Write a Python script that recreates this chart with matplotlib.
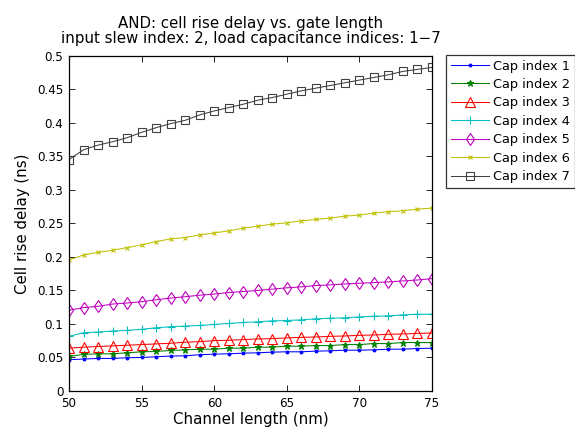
import matplotlib
matplotlib.use("Agg")
import matplotlib.pyplot as plt

plt.rcParams['font.family'] = ['DejaVu Sans']

channel_length = list(range(50, 76))

cap1 = [0.0467, 0.0477, 0.0486, 0.0486, 0.0496, 0.0501, 0.0511, 0.0521, 0.0526, 0.0541,
        0.0550, 0.0555, 0.0565, 0.0570, 0.0580, 0.0585, 0.0585, 0.0595, 0.0600, 0.0609,
        0.0609, 0.0614, 0.0624, 0.0624, 0.0634, 0.0639]
cap2 = [0.0516, 0.0546, 0.0555, 0.0555, 0.0570, 0.0585, 0.0590, 0.0605, 0.0614, 0.0624,
        0.0624, 0.0639, 0.0639, 0.0654, 0.0654, 0.0669, 0.0669, 0.0678, 0.0678, 0.0693,
        0.0693, 0.0708, 0.0708, 0.0723, 0.0723, 0.0723]
cap3 = [0.0639, 0.0654, 0.0664, 0.0673, 0.0683, 0.0693, 0.0703, 0.0713, 0.0728, 0.0737,
        0.0752, 0.0757, 0.0767, 0.0777, 0.0782, 0.0792, 0.0801, 0.0806, 0.0816, 0.0821,
        0.0831, 0.0836, 0.0846, 0.0851, 0.0860, 0.0865]
cap4 = [0.0816, 0.0870, 0.0880, 0.0895, 0.0905, 0.0920, 0.0944, 0.0959, 0.0969, 0.0978,
        0.0993, 0.1008, 0.1023, 0.1033, 0.1047, 0.1052, 0.1062, 0.1077, 0.1087, 0.1092,
        0.1106, 0.1116, 0.1121, 0.1136, 0.1146, 0.1146]
cap5 = [0.1205, 0.1244, 0.1264, 0.1298, 0.1313, 0.1333, 0.1362, 0.1387, 0.1407, 0.1430,
        0.1446, 0.1470, 0.1485, 0.1500, 0.1520, 0.1540, 0.1554, 0.1574, 0.1584, 0.1598,
        0.1608, 0.1618, 0.1628, 0.1643, 0.1657, 0.1677]
cap6 = [0.1955, 0.2030, 0.2070, 0.2100, 0.2140, 0.2180, 0.2230, 0.2270, 0.2290, 0.2330,
        0.2360, 0.2390, 0.2430, 0.2460, 0.2490, 0.2510, 0.2540, 0.2560, 0.2580, 0.2610,
        0.2625, 0.2655, 0.2675, 0.2690, 0.2714, 0.2730]
cap7 = [0.3455, 0.3600, 0.3670, 0.3720, 0.3780, 0.3860, 0.3930, 0.3990, 0.4040, 0.4120,
        0.4180, 0.4230, 0.4280, 0.4340, 0.4380, 0.4430, 0.4480, 0.4520, 0.4560, 0.4600,
        0.4640, 0.4680, 0.4720, 0.4770, 0.4800, 0.4830]

series = [cap1, cap2, cap3, cap4, cap5, cap6, cap7]
labels = ['Cap index 1', 'Cap index 2', 'Cap index 3', 'Cap index 4',
          'Cap index 5', 'Cap index 6', 'Cap index 7']
x_ticks = [50, 55, 60, 65, 70, 75]
y_ticks = [0, 0.05, 0.1, 0.15, 0.2, 0.25, 0.3, 0.35, 0.4, 0.45, 0.5]
y_ticklabels = ['0', '0.05', '0.1', '0.15', '0.2', '0.25', '0.3', '0.35', '0.4', '0.45', '0.5']

colors = [(0, 0, 1), (0, 0.5, 0), (1, 0, 0), (0, 0.75, 0.75),
          (0.75, 0, 0.75), (0.75, 0.75, 0), (0.25, 0.25, 0.25)]
markers = ['.', '*', '^', '+', 'd', 'x', 's']
msizes = [4, 4.5, 7, 6, 6, 3.5, 5.5]

fig = plt.figure(figsize=(5.75, 4.3), dpi=100)
ax = fig.add_axes([0.12, 0.0907, 0.6313, 0.7791])

for y, lab, c, m, ms in zip(series, labels, colors, markers, msizes):
    ax.plot(channel_length, y, color=c, marker=m, markersize=ms, linewidth=0.75,
            markerfacecolor='none' if m in ('^', 'd', 's') else c,
            markeredgewidth=0.8, label=lab)

ax.set_xlim(50, 75)
ax.set_ylim(0, 0.5)
ax.set_xticks(x_ticks)
ax.set_yticks(y_ticks)
ax.set_yticklabels(y_ticklabels)
ax.tick_params(direction='in', top=True, right=True, labelsize=8.6, length=4, width=0.6, pad=4)
for s in ax.spines.values():
    s.set_linewidth(0.9)

ax.set_xlabel('Channel length (nm)', fontsize=10.8, labelpad=2)
ax.set_ylabel('Cell rise delay (ns)', fontsize=10.8, labelpad=5)
ax.set_title('AND: cell rise delay vs. gate length\ninput slew index: 2, load capacitance indices: 1\u22127',
             fontsize=10.8, pad=9, linespacing=1.05)

leg = ax.legend(loc='upper left', bbox_to_anchor=(1.0386, 1.003), fontsize=9.3,
                frameon=True, fancybox=False, edgecolor='black', borderaxespad=0,
                handlelength=3.0, handletextpad=0.3, labelspacing=0.42,
                borderpad=0.35)
leg.get_frame().set_linewidth(0.9)

fig.savefig('out.png', dpi=100)
